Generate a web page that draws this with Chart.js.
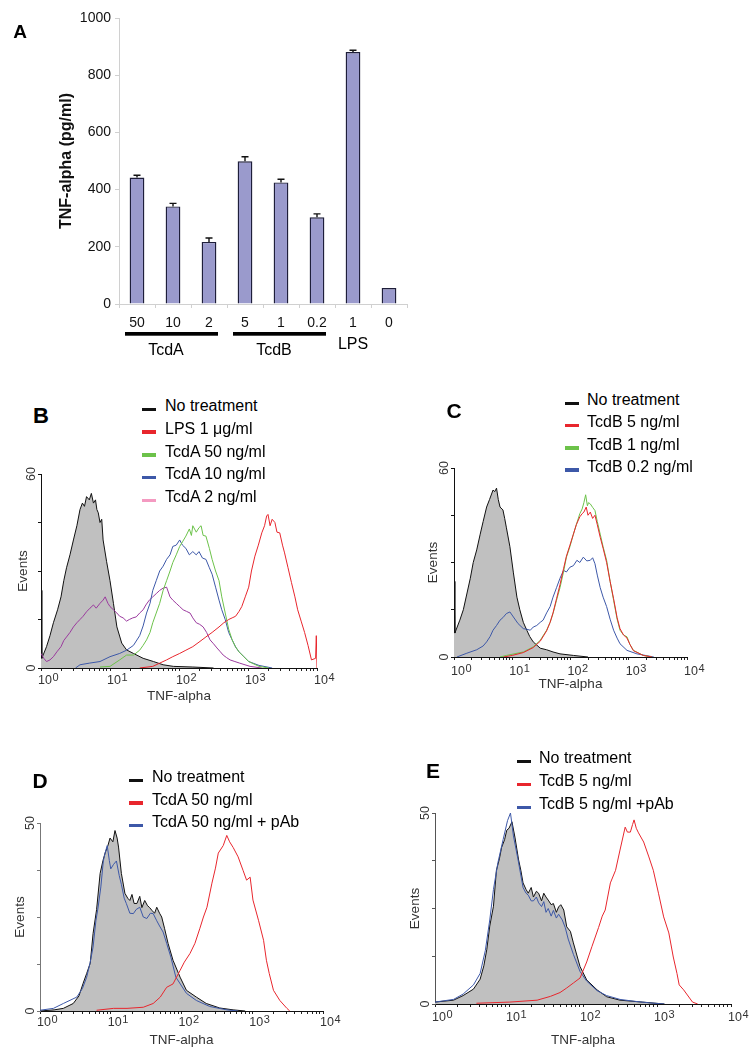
<!DOCTYPE html>
<html><head><meta charset="utf-8">
<script src="https://cdn.jsdelivr.net/npm/chart.js@4.4.1/dist/chart.umd.min.js"></script>
<style>
body{margin:0;background:#fff;width:755px;height:1050px;position:relative;overflow:hidden;font-family:"Liberation Sans",Arial,sans-serif;}
canvas{position:absolute;}
.t{position:absolute;white-space:nowrap;color:#000;}
.lg{position:absolute;font-size:16px;line-height:20px;white-space:nowrap;color:#000;}
.mk{position:absolute;width:14px;height:3.5px;}
.let{position:absolute;font-weight:bold;text-align:center;width:30px;color:#000;}
</style></head><body>
<canvas id="ca" width="430" height="360" style="left:0;top:0"></canvas>
<canvas id="cb" width="345" height="280" style="left:0;top:440px"></canvas>
<canvas id="cc" width="375" height="270" style="left:380px;top:440px"></canvas>
<canvas id="cd" width="345" height="290" style="left:0;top:760px"></canvas>
<canvas id="ce" width="375" height="310" style="left:380px;top:740px"></canvas>
<script>
// ---------- Panel A data ----------
const barLabels = ['50','10','2','5','1','0.2','1','0'];
const barValues = [442,341,217,499,425,303,881,56];
const barErrors = [8,11,14,16,11,12,6,0];
const barYTicks = [0,200,400,600,800,1000];
const groupNames = ['TcdA','TcdB','LPS'];
const groupSpans = [[0,2],[3,5],[6,6]];
const groupUnderlined = [true,true,false];

// ---------- shared axis labels ----------
const decadeBase = '10';
const decadeExponents = ['0','1','2','3','4'];
const yTicks60 = [0,15,30,45,60];
const yTicks50 = [0,12.5,25,37.5,50];

// ---------- Panel B data (x = log10 decade position, y = events) ----------
const bLabels = ['No treatment','LPS 1 \u03bcg/ml','TcdA 50 ng/ml','TcdA 10 ng/ml','TcdA 2 ng/ml'];
const bLineColors = ['#111111','#e8262d','#6cc24a','#3d58a8','#9b3a9e'];
const bLegendColors = ['#111111','#e8262d','#6cc24a','#3d58a8','#f49ac1'];
const bNone = [[0,24],[0.012,3],[0.08,6.6],[0.13,10],[0.18,14],[0.24,18],[0.29,22],[0.33,27],[0.37,31],[0.42,35],[0.47,39.6],[0.52,44],[0.565,49],[0.6,51],[0.63,50],[0.66,53],[0.7,52],[0.73,54],[0.76,51],[0.79,52],[0.81,49],[0.83,48],[0.855,45],[0.88,46],[0.9,39.6],[0.95,33],[1.0,27],[1.05,20],[1.1,12.7],[1.17,7.7],[1.24,5.6],[1.34,4.5],[1.48,3],[1.63,2],[1.77,1],[1.92,0.5],[2.2,0.3],[2.5,0]];
const bLPS = [[1.43,0],[1.62,0.5],[1.72,1.5],[1.82,2.5],[1.91,3.5],[2.01,4.5],[2.1,5.5],[2.2,6.6],[2.29,8],[2.39,9.6],[2.48,11],[2.58,12.7],[2.65,14],[2.72,15],[2.77,15.5],[2.82,16],[2.87,17.5],[2.91,19],[2.96,22],[3.01,25],[3.05,30],[3.1,34.6],[3.15,38],[3.2,41.8],[3.24,44],[3.27,47],[3.29,47.5],[3.32,44],[3.35,46],[3.39,45],[3.42,42],[3.46,41.8],[3.5,38],[3.53,35.6],[3.58,31],[3.63,26.4],[3.68,22],[3.72,18],[3.77,14.5],[3.82,11],[3.87,7],[3.92,2.5],[3.98,3],[3.99,10],[4,0]];
const bTcdA50 = [[0.855,0.3],[1.0,0.5],[1.14,2.5],[1.24,4],[1.34,4],[1.43,5.5],[1.48,7],[1.53,8.7],[1.58,11],[1.62,14],[1.67,17],[1.72,20],[1.77,24],[1.82,27],[1.87,30],[1.91,32.6],[1.96,35],[2.01,37.6],[2.05,39],[2.1,40.8],[2.15,43],[2.18,41],[2.2,44],[2.25,42],[2.29,43.4],[2.32,44],[2.35,41],[2.39,40.8],[2.44,37],[2.48,33.6],[2.53,30],[2.58,27],[2.62,22],[2.67,17],[2.72,12],[2.77,8.7],[2.82,6.5],[2.87,5],[2.94,3.5],[3.01,2],[3.16,0.5],[3.3,0]];
const bTcdA10 = [[0.5,0],[0.565,1],[0.7,1.5],[0.855,2],[1.0,3.5],[1.14,4.5],[1.24,5.5],[1.34,7],[1.43,10],[1.48,13],[1.53,17],[1.58,20],[1.62,24],[1.67,27],[1.72,30],[1.77,31.5],[1.82,33.6],[1.87,35],[1.91,37.6],[1.96,38],[2.01,39.6],[2.05,38],[2.1,37],[2.15,35],[2.2,36],[2.25,35],[2.29,36],[2.34,34],[2.39,33.6],[2.44,31],[2.48,29],[2.53,25],[2.58,21],[2.62,18],[2.67,15],[2.72,11],[2.77,8.7],[2.82,6.5],[2.87,5],[2.94,3.5],[3.01,2],[3.16,0.8],[3.35,0]];
const bTcdA2 = [[0,4.5],[0.04,3],[0.08,2],[0.13,2.5],[0.18,3.5],[0.23,5],[0.29,6.6],[0.33,8.5],[0.37,9.6],[0.42,11],[0.47,12.7],[0.52,14],[0.565,15],[0.61,16],[0.66,17.4],[0.71,18.5],[0.76,19.5],[0.8,18.5],[0.855,20],[0.9,21],[0.93,22],[0.97,20],[1.0,19],[1.05,18],[1.1,17],[1.14,16],[1.19,15.5],[1.24,14.5],[1.28,15],[1.33,15.5],[1.38,15.8],[1.43,17],[1.48,18],[1.52,19.5],[1.57,21],[1.62,22],[1.67,23],[1.72,24],[1.77,24.7],[1.82,25],[1.87,22],[1.91,21],[1.96,20],[2.01,19],[2.06,18],[2.11,17.5],[2.16,17],[2.2,15.5],[2.25,14],[2.3,13.5],[2.35,12.7],[2.4,11],[2.45,8.7],[2.5,7.5],[2.55,6.2],[2.6,5],[2.64,4],[2.69,3.2],[2.74,2.5],[2.81,2],[2.88,1.5],[3.03,0.5],[3.2,0]];

// ---------- Panel C data ----------
const cLabels = ['No treatment','TcdB 5 ng/ml','TcdB 1 ng/ml','TcdB 0.2 ng/ml'];
const cColors = ['#111111','#e8262d','#6cc24a','#3d58a8'];
const cNone = [[0,24],[0.015,7.6],[0.1,11.7],[0.16,15],[0.22,20],[0.28,25],[0.33,30],[0.39,34],[0.45,39],[0.5,43],[0.56,47.6],[0.61,50],[0.67,53],[0.7,52.5],[0.73,53.6],[0.76,50],[0.79,47.6],[0.84,46.7],[0.87,44],[0.9,41],[0.96,35],[1.02,26.7],[1.08,19],[1.13,15],[1.19,11],[1.25,8.5],[1.3,6.5],[1.36,4.8],[1.48,2.8],[1.59,2.3],[1.7,1.6],[1.82,1],[2.05,0.5],[2.3,0]];
const cTcdB5 = [[0.85,0],[1.0,0.5],[1.19,1.4],[1.36,3],[1.48,5],[1.59,8.3],[1.65,11],[1.7,14],[1.76,18.5],[1.82,23],[1.88,28],[1.93,32],[1.99,35.5],[2.05,39],[2.1,42],[2.16,44.5],[2.2,45.5],[2.23,46],[2.27,47.6],[2.3,45],[2.34,46],[2.38,44],[2.42,45],[2.46,42],[2.51,38],[2.56,34.5],[2.62,30],[2.68,24],[2.74,18.5],[2.8,12.5],[2.85,9],[2.91,7],[2.97,6],[3.02,4],[3.08,2],[3.25,0.5],[3.4,0]];
const cTcdB1 = [[0.79,0],[0.9,0.5],[1.19,1.6],[1.36,3.2],[1.48,5.3],[1.59,8.5],[1.65,11],[1.7,13.8],[1.76,18],[1.82,22],[1.88,27],[1.93,31.7],[1.99,35],[2.05,39],[2.1,42],[2.16,45.5],[2.2,47],[2.23,49],[2.26,51.5],[2.29,48],[2.31,49],[2.34,48.6],[2.38,47.5],[2.42,46.5],[2.46,43],[2.51,39],[2.56,35],[2.62,30.7],[2.68,24],[2.74,18],[2.8,12],[2.85,8.5],[2.91,7],[2.97,6.4],[3.02,4],[3.08,2.1],[3.25,0.5],[3.4,0]];
const cTcdB02 = [[0.05,0],[0.22,1.2],[0.39,2.3],[0.5,3.5],[0.56,4.8],[0.62,6.5],[0.67,8.5],[0.73,10],[0.79,11.7],[0.84,12.5],[0.9,13.8],[0.96,14.3],[1.02,12.7],[1.1,10.6],[1.19,9],[1.25,8.8],[1.31,8.5],[1.36,9.5],[1.42,10],[1.48,11],[1.53,11.7],[1.59,14],[1.65,16],[1.7,19],[1.76,22],[1.82,25],[1.88,27.5],[1.93,27],[1.99,28.5],[2.05,29],[2.11,30.7],[2.16,30],[2.22,31.7],[2.28,30.5],[2.34,30.7],[2.38,31.5],[2.42,29.6],[2.46,26],[2.51,22],[2.56,19],[2.62,16],[2.68,12],[2.74,8.5],[2.8,6],[2.85,4.2],[2.97,2.1],[3.14,1],[3.43,0]];

// ---------- Panel D data ----------
const dLabels = ['No treatment','TcdA 50 ng/ml','TcdA 50 ng/ml + pAb'];
const dColors = ['#111111','#e8262d','#3d58a8'];
const dNone = [[0,0],[0.2,0.3],[0.33,0.7],[0.47,2],[0.55,4],[0.61,7.4],[0.66,10],[0.71,12.7],[0.75,20.6],[0.8,27],[0.85,36.6],[0.89,40],[0.92,42],[0.96,44],[0.99,46],[1.03,45],[1.06,48],[1.09,46],[1.11,43.6],[1.15,36.6],[1.2,31.3],[1.24,30],[1.27,29.4],[1.3,31],[1.33,28.6],[1.37,28.6],[1.41,30.5],[1.44,27.5],[1.48,29.4],[1.52,28],[1.55,27.5],[1.58,26.8],[1.62,26],[1.65,27.6],[1.69,26],[1.72,25],[1.76,22],[1.81,18],[1.88,13.5],[1.98,9],[2.07,5.5],[2.21,3.7],[2.35,2],[2.54,0.8],[2.73,0.3],[2.9,0]];
const dTcdA50 = [[0.8,0.2],[1.04,0.7],[1.23,0.7],[1.46,1],[1.6,2],[1.7,3.7],[1.79,6.3],[1.88,7.2],[1.98,10.8],[2.04,13],[2.12,15.3],[2.19,18],[2.26,22],[2.31,25],[2.36,27.6],[2.43,34],[2.48,38],[2.52,42],[2.59,44],[2.64,46.7],[2.68,45],[2.73,43.5],[2.8,41],[2.87,37.4],[2.92,34.8],[2.97,35.6],[3.01,29.5],[3.09,24],[3.16,18.8],[3.2,13.5],[3.24,10],[3.3,5.5],[3.39,2.8],[3.49,0.7],[3.53,0]];
const dTcdA50pAb = [[0,0.2],[0.19,0.7],[0.33,2],[0.52,3.7],[0.6,6],[0.66,9],[0.71,13],[0.75,17],[0.79,24],[0.82,27.4],[0.86,33],[0.895,39.9],[0.92,42],[0.95,44],[0.98,40],[1.0,37.8],[1.04,39],[1.08,39.9],[1.12,36],[1.15,33.7],[1.19,30],[1.22,28.6],[1.27,26],[1.32,25.9],[1.36,27],[1.41,27.6],[1.46,25],[1.51,24.6],[1.56,26],[1.6,25.9],[1.65,24],[1.69,22.6],[1.74,21],[1.79,18],[1.85,14.3],[1.92,9],[2.07,4.7],[2.21,2.8],[2.4,1.2],[2.64,0.3],[2.8,0]];

// ---------- Panel E data ----------
const eLabels = ['No treatment','TcdB 5 ng/ml','TcdB 5 ng/ml +pAb'];
const eColors = ['#111111','#e8262d','#3d58a8'];
const eNone = [[0,0.5],[0.25,1],[0.38,2.2],[0.52,3.9],[0.61,6.5],[0.66,10],[0.7,14.3],[0.74,20.4],[0.79,25.6],[0.83,35],[0.87,38],[0.9,41],[0.94,43],[0.97,45.5],[1.0,46],[1.04,47.7],[1.08,43.7],[1.13,37.7],[1.16,35],[1.19,31.7],[1.23,30],[1.26,29],[1.3,30.5],[1.33,28],[1.37,29.5],[1.4,29],[1.44,27],[1.47,29],[1.5,28],[1.53,27.2],[1.57,26],[1.6,26.3],[1.64,24],[1.67,25.4],[1.7,26],[1.74,24.6],[1.78,20.2],[1.83,19],[1.87,16],[1.96,9.8],[2.05,6.3],[2.19,3.7],[2.32,1.9],[2.5,1],[2.8,0.5],[3.1,0]];
const eTcdB5 = [[0.56,0.2],[1.01,0.5],[1.38,1],[1.56,2],[1.69,3],[1.78,4.2],[1.87,5.5],[1.96,6.8],[2.05,11],[2.12,15],[2.21,20],[2.26,23],[2.3,24.6],[2.37,31.7],[2.44,35],[2.5,40.3],[2.57,46.3],[2.6,45],[2.64,45],[2.67,47],[2.69,48.2],[2.72,46],[2.75,44.8],[2.82,42.4],[2.89,38.5],[2.95,35],[3.02,29],[3.09,22.8],[3.16,18.6],[3.22,12.3],[3.27,8],[3.3,5],[3.36,3.7],[3.48,0.5],[3.55,0]];
const eTcdB5pAb = [[0,0.5],[0.25,1.2],[0.38,2.6],[0.52,5],[0.61,8],[0.68,14],[0.74,22],[0.79,30],[0.85,37],[0.92,43],[0.98,48],[1.02,50],[1.06,44],[1.12,38],[1.19,30.5],[1.23,29],[1.26,28.5],[1.3,27],[1.33,27],[1.37,28],[1.4,26.5],[1.44,25.5],[1.47,26.8],[1.5,24],[1.53,25],[1.57,23],[1.6,24.5],[1.64,22.5],[1.67,23.5],[1.72,22],[1.76,20],[1.8,17],[1.87,13],[1.96,8.5],[2.05,6],[2.19,3.5],[2.32,2.2],[2.5,1.2],[2.7,0.7],[2.9,0.3],[3.1,0]];

// ================= rendering =================
const FONT = "'Liberation Sans', Arial, sans-serif";
Chart.defaults.font.family = FONT;

function addText(txt, cls, left, top, extra) {
  const d = document.createElement('div');
  d.className = cls; d.textContent = txt;
  d.style.left = left + 'px'; d.style.top = top + 'px';
  if (extra) Object.assign(d.style, extra);
  document.body.appendChild(d);
  return d;
}
function panelLetter(ch, cx, cy, size) {
  addText(ch, 'let', cx - 15, cy - size * 0.49, {fontSize: size + 'px', lineHeight: size + 'px'});
}
function legend(labels, colors, textLeft, markLeft, y0, dy) {
  labels.forEach((lab, i) => {
    const cy = y0 + i * dy;
    addText(lab, 'lg', textLeft, cy - 10);
    const m = document.createElement('div');
    m.className = 'mk';
    m.style.left = markLeft + 'px'; m.style.top = (cy + 1.5) + 'px';
    m.style.background = colors[i];
    document.body.appendChild(m);
  });
}

// ---- Panel A ----
const errorBarPlugin = {
  id: 'errbars',
  afterDatasetsDraw(chart) {
    const ctx = chart.ctx, y = chart.scales.y, meta = chart.getDatasetMeta(0);
    ctx.save(); ctx.strokeStyle = '#111'; ctx.lineWidth = 1.4;
    meta.data.forEach((bar, i) => {
      const e = barErrors[i]; if (!e) return;
      const yt = y.getPixelForValue(barValues[i] + e);
      ctx.beginPath();
      ctx.moveTo(bar.x, bar.y); ctx.lineTo(bar.x, yt);
      ctx.moveTo(bar.x - 3.5, yt); ctx.lineTo(bar.x + 3.5, yt);
      ctx.stroke();
    });
    ctx.restore();
  }
};
const groupLinePlugin = {
  id: 'grouplines',
  afterDraw(chart) {
    const ctx = chart.ctx, x = chart.scales.x;
    ctx.save(); ctx.fillStyle = '#000';
    groupSpans.forEach(([a, b], k) => {
      if (!groupUnderlined[k]) return;
      const x0 = x.getPixelForValue(a) - 12, x1 = x.getPixelForValue(b) + 9;
      ctx.fillRect(x0, 332, x1 - x0, 3.7);
    });
    ctx.restore();
  }
};
const chartA = new Chart(document.getElementById('ca'), {
  type: 'bar',
  data: {labels: barLabels, datasets: [{data: barValues, backgroundColor: '#9a9acc', borderColor: '#1e1e3a', borderWidth: 1.4, barPercentage: 0.41, categoryPercentage: 1}]},
  options: {
    responsive: false, animation: false, devicePixelRatio: 1, events: [],
    layout: {padding: {left: 0, top: 18, right: 23, bottom: 0}},
    plugins: {legend: {display: false}, tooltip: {enabled: false}},
    scales: {
      x: {
        afterFit: s => { s.height = 56; },
        grid: {drawOnChartArea: false, tickLength: 4, color: '#d0d0d0', offset: true},
        border: {color: '#d0d0d0'},
        ticks: {color: '#111', font: {size: 14}, padding: 6.5, autoSkip: false, maxRotation: 0}
      },
      y: {
        min: 0, max: 1000,
        afterBuildTicks: s => { s.ticks = barYTicks.map(v => ({value: v})); },
        afterFit: s => { s.width = 119; },
        grid: {drawOnChartArea: false, tickLength: 4, color: '#d0d0d0'},
        border: {color: '#d0d0d0'},
        ticks: {color: '#111', font: {size: 14}, padding: 4, callback: v => String(v)},
        title: {display: true, text: 'TNF-alpha (pg/ml)', color: '#111', font: {size: 16, weight: 'bold'}, padding: {top: 57, bottom: 0}}
      }
    }
  },
  plugins: [errorBarPlugin, groupLinePlugin]
});
(function () {
  const xs = chartA.scales.x;
  groupNames.forEach((g, k) => {
    const [a, b] = groupSpans[k];
    let cx = (xs.getPixelForValue(a) + xs.getPixelForValue(b)) / 2;
    let cy = 350;
    if (!groupUnderlined[k]) { cy = 344; } else { cx -= 7; }
    addText(g, 't', cx - 40, cy - 10, {width: '80px', textAlign: 'center', fontSize: '16px', lineHeight: '20px'});
  });
})();
panelLetter('A', 20, 31, 19);

// ---- Histogram panels ----
// decade labels "10" with a raised exponent, placed at the scale's decade ticks
const decadeLabelPlugin = {
  id: 'decadeLabels',
  afterDraw(chart, args, opts) {
    const ctx = chart.ctx, xs = chart.scales.x;
    const yBase = xs.top + opts.gap;
    ctx.save();
    ctx.fillStyle = '#333';
    ctx.textBaseline = 'alphabetic';
    ctx.textAlign = 'left';
    decadeExponents.forEach((ex, d) => {
      const px = xs.getPixelForValue(d);
      ctx.font = "12.5px " + FONT;
      ctx.fillText(decadeBase, px - 3, yBase);
      const w = ctx.measureText(decadeBase).width;
      ctx.font = "11px " + FONT;
      ctx.fillText(ex, px - 3 + w + 0.5, yBase - 3);
    });
    ctx.restore();
  }
};

function histChart(id, series, o) {
  const datasets = series.map(s => ({
    label: s.label, data: s.data, borderColor: s.color, borderWidth: 1,
    pointRadius: 0, tension: 0, fill: s.filled ? 'origin' : false,
    backgroundColor: s.filled ? '#c0c0c0' : 'rgba(0,0,0,0)', order: s.order
  }));
  const tickFont = {family: FONT, size: 12.5};
  const titleFont = {family: FONT, size: 13.5};
  return new Chart(document.getElementById(id), {
    type: 'line',
    data: {datasets},
    options: {
      responsive: false, animation: false, devicePixelRatio: 1, events: [],
      layout: {padding: o.pad},
      plugins: {legend: {display: false}, tooltip: {enabled: false}, decadeLabels: {gap: o.labelGap}},
      scales: {
        x: {
          type: 'linear', min: 0, max: 4,
          afterBuildTicks: s => {
            const t = [];
            for (let d = 0; d < 4; d++) for (let k = 1; k < 10; k++) t.push({value: d + Math.log10(k)});
            t.push({value: 4});
            s.ticks = t;
          },
          afterFit: s => { s.height = o.xh; },
          grid: {drawOnChartArea: false, tickLength: 3, color: '#222'},
          border: {color: '#111', width: 1},
          ticks: {autoSkip: false, minRotation: 0, maxRotation: 0, padding: 1, color: '#333', font: tickFont, callback: () => ''},
          title: {display: true, text: 'TNF-alpha', color: '#333', font: titleFont, padding: {top: 0, bottom: o.xtp}}
        },
        y: {
          min: 0, max: o.yTicks[o.yTicks.length - 1],
          afterBuildTicks: s => { s.ticks = o.yTicks.map(v => ({value: v})); },
          afterFit: s => { s.width = o.yw; },
          grid: {drawOnChartArea: false, tickLength: 3, color: o.yColor},
          border: {color: o.yColor, width: 1},
          ticks: {autoSkip: false, minRotation: 90, maxRotation: 90, crossAlign: 'center', padding: 0, color: '#333', font: tickFont,
            callback: v => (v === 0 || v === o.yTicks[o.yTicks.length - 1]) ? String(v) : ''},
          title: {display: true, text: 'Events', color: '#333', font: titleFont, padding: {top: o.ytp, bottom: 0}}
        }
      }
    },
    plugins: [decadeLabelPlugin]
  });
}

// B
histChart('cb', [
  {label: bLabels[0], data: bNone, color: bLineColors[0], filled: true, order: 5},
  {label: bLabels[1], data: bLPS, color: bLineColors[1], order: 0},
  {label: bLabels[2], data: bTcdA50, color: bLineColors[2], order: 2},
  {label: bLabels[3], data: bTcdA10, color: bLineColors[3], order: 3},
  {label: bLabels[4], data: bTcdA2, color: bLineColors[4], order: 4}
], {pad: {left: 0, top: 34, right: 28, bottom: 0}, yw: 41, xh: 52, ytp: 15, xtp: 16, labelGap: 16, yTicks: yTicks60, yColor: '#111'});
legend(bLabels, bLegendColors, 165, 142, 406, 22.8);
panelLetter('B', 41, 416, 22);

// C
histChart('cc', [
  {label: cLabels[0], data: cNone, color: cColors[0], filled: true, order: 5},
  {label: cLabels[1], data: cTcdB5, color: cColors[1], order: 1},
  {label: cLabels[2], data: cTcdB1, color: cColors[2], order: 2},
  {label: cLabels[3], data: cTcdB02, color: cColors[3], order: 3}
], {pad: {left: 30, top: 28, right: 68, bottom: 0}, yw: 44, xh: 53, ytp: 15, xtp: 18, labelGap: 17.5, yTicks: yTicks60, yColor: '#111'});
legend(cLabels, cColors, 587, 565, 400, 22.3);
panelLetter('C', 454, 410, 21);

// D
histChart('cd', [
  {label: dLabels[0], data: dNone, color: dColors[0], filled: true, order: 5},
  {label: dLabels[1], data: dTcdA50, color: dColors[1], order: 1},
  {label: dLabels[2], data: dTcdA50pAb, color: dColors[2], order: 2}
], {pad: {left: 0, top: 63, right: 22, bottom: 0}, yw: 40, xh: 39, ytp: 12, xtp: 2, labelGap: 15, yTicks: yTicks50, yColor: '#777'});
legend(dLabels, dColors, 152, 129, 777, 22.5);
panelLetter('D', 40, 780, 21);

// E
histChart('ce', [
  {label: eLabels[0], data: eNone, color: eColors[0], filled: true, order: 5},
  {label: eLabels[1], data: eTcdB5, color: eColors[1], order: 1},
  {label: eLabels[2], data: eTcdB5pAb, color: eColors[2], order: 2}
], {pad: {left: 0, top: 73, right: 24, bottom: 0}, yw: 55, xh: 46, ytp: 27, xtp: 2, labelGap: 17, yTicks: yTicks50, yColor: '#555'});
legend(eLabels, eColors, 539, 517, 758, 23);
panelLetter('E', 433, 770, 21);
</script>
</body></html>
